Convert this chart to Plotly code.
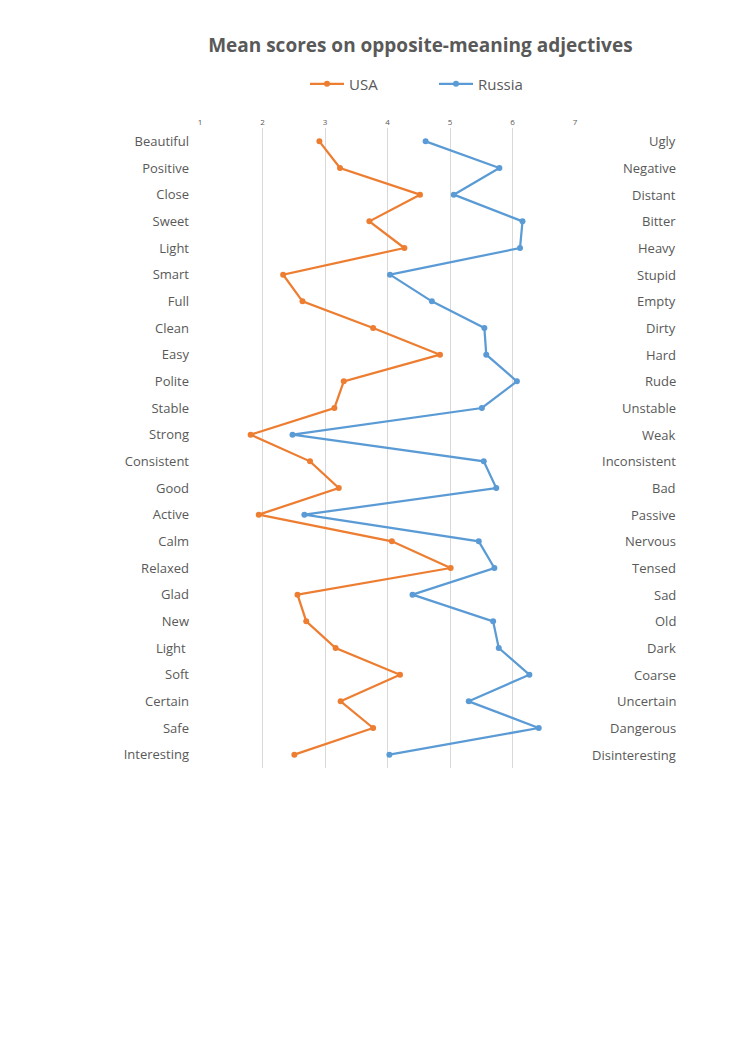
import plotly.graph_objects as go

left_labels = ["Beautiful", "Positive", "Close", "Sweet", "Light", "Smart", "Full", "Clean",
               "Easy", "Polite", "Stable", "Strong", "Consistent", "Good", "Active", "Calm",
               "Relaxed", "Glad", "New", "Light ", "Soft", "Certain", "Safe", "Interesting"]
right_labels = ["Ugly", "Negative", "Distant", "Bitter", "Heavy", "Stupid", "Empty", "Dirty",
                "Hard", "Rude", "Unstable", "Weak", "Inconsistent", "Bad", "Passive", "Nervous",
                "Tensed", "Sad", "Old", "Dark", "Coarse", "Uncertain", "Dangerous", "Disinteresting"]
usa = [2.91, 3.24, 4.52, 3.71, 4.27, 2.33, 2.64, 3.77, 4.84, 3.30, 3.15, 1.81,
       2.76, 3.22, 1.94, 4.07, 5.01, 2.56, 2.70, 3.17, 4.20, 3.25, 3.77, 2.51]
russia = [4.61, 5.79, 5.06, 6.16, 6.12, 4.04, 4.71, 5.55, 5.58, 6.07, 5.51, 2.48,
          5.54, 5.74, 2.67, 5.46, 5.71, 4.40, 5.69, 5.78, 6.27, 5.30, 6.42, 4.03]
x_ticks = [1, 2, 3, 4, 5, 6, 7]

gray = "#595959"
font = "Open Sans, DejaVu Sans, sans-serif"

fig = go.Figure()
fig.add_trace(go.Scatter(x=usa, y=left_labels, mode="lines+markers", name="USA",
                         line=dict(color="#ED7D31", width=2.25),
                         marker=dict(color="#ED7D31", size=6)))
fig.add_trace(go.Scatter(x=russia, y=left_labels, mode="lines+markers", name="Russia",
                         line=dict(color="#5B9BD5", width=2.25),
                         marker=dict(color="#5B9BD5", size=6)))

for lab, rlab in zip(left_labels, right_labels):
    fig.add_annotation(x=1.275, xref="paper", y=lab, yref="y", text=rlab,
                       showarrow=False, xanchor="right", yanchor="middle",
                       font=dict(family=font, size=13, color=gray))

fig.update_layout(
    width=744, height=1052,
    margin=dict(l=200, r=169, t=128, b=284),
    paper_bgcolor="white", plot_bgcolor="white",
    title=dict(text="<b>Mean scores on opposite-meaning adjectives</b>",
               x=0.565, xanchor="center", y=1 - 45 / 1052, yanchor="middle",
               font=dict(family=font, size=19, color=gray)),
    legend=dict(orientation="h", x=(305 - 200) / 375, xanchor="left", y=1 - 84 / 1052, yref="container",
                yanchor="middle", font=dict(family=font, size=15, color=gray),
                itemwidth=34, entrywidth=80, entrywidthmode="pixels"),
    showlegend=True,
    xaxis=dict(side="top", range=[1, 7], tickvals=x_ticks, showgrid=True,
               gridcolor="#d9d9d9", gridwidth=1, zeroline=False, showline=False,
               ticks="", tickfont=dict(family=font, size=8, color=gray)),
    yaxis=dict(showgrid=False, zeroline=False,
               showline=False, ticks="", ticklabelstandoff=10,
               tickfont=dict(family=font, size=13, color=gray)),
)
fig.update_yaxes(range=[23.5, -0.5], autorange=False)
fig.write_html("out.html")
